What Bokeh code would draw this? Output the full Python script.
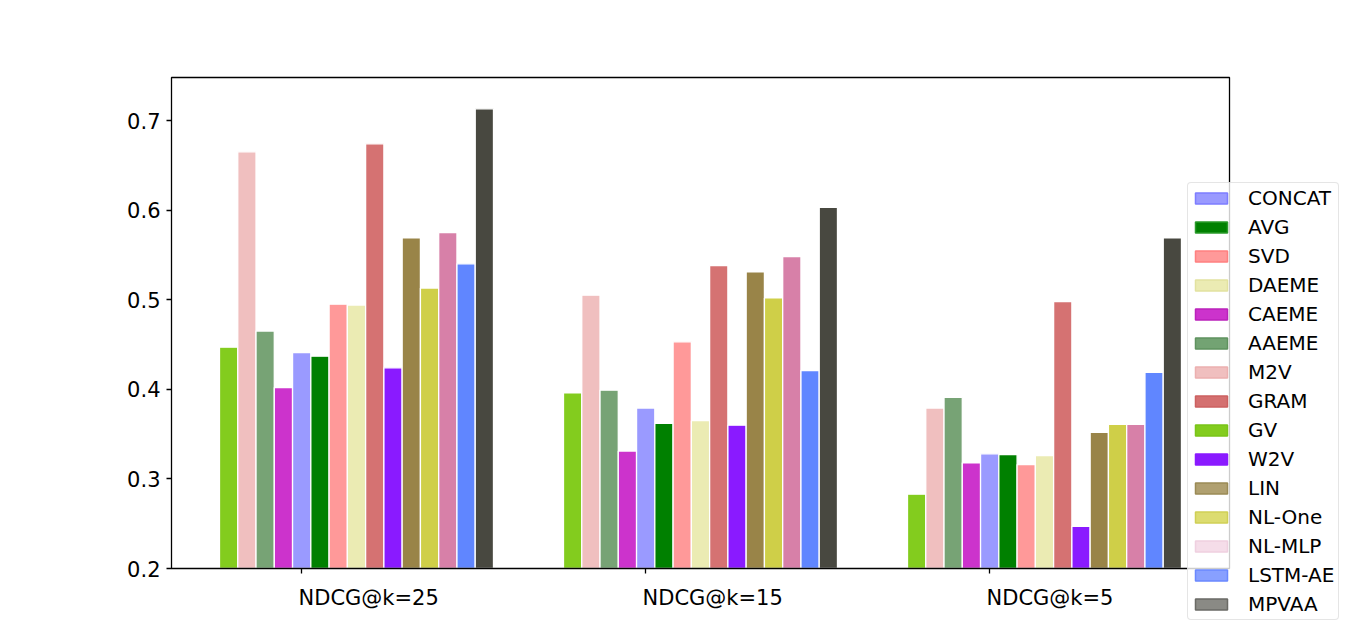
from bokeh.plotting import figure
from bokeh.models import (Range1d, FixedTicker, LinearAxis, Legend, LegendItem,
                          ColumnDataSource, CustomJSTickFormatter, BoxAnnotation)
from bokeh.core.properties import value
from bokeh.embed import file_html
from bokeh.resources import INLINE

# ---- data ----
groups = ["NDCG@k=25", "NDCG@k=15", "NDCG@k=5"]
series = ["GV", "M2V", "AAEME", "CAEME", "CONCAT", "AVG", "SVD", "DAEME",
          "GRAM", "W2V", "LIN", "NL-One", "NL-MLP", "LSTM-AE", "MPVAA"]
ndcg25 = [0.447, 0.665, 0.465, 0.402, 0.441, 0.437, 0.495, 0.494,
          0.674, 0.424, 0.569, 0.513, 0.575, 0.540, 0.713]
ndcg15 = [0.396, 0.505, 0.399, 0.331, 0.379, 0.362, 0.453, 0.365,
          0.538, 0.360, 0.531, 0.502, 0.548, 0.421, 0.603]
ndcg5 = [0.283, 0.379, 0.391, 0.318, 0.328, 0.327, 0.316, 0.326,
         0.498, 0.247, 0.352, 0.361, 0.361, 0.419, 0.569]
y_ticks = [0.2, 0.3, 0.4, 0.5, 0.6, 0.7]

# ---- styles ----
bar_colors = {
    "GV": "#83cc1e", "M2V": "#f0bfbf", "AAEME": "#77a375", "CAEME": "#cc33cc",
    "CONCAT": "#9a9aff", "AVG": "#008000", "SVD": "#ff9999", "DAEME": "#ebebb3",
    "GRAM": "#d57272", "W2V": "#8a1aff", "LIN": "#998448", "NL-One": "#cfcf48",
    "NL-MLP": "#d780a8", "LSTM-AE": "#6086ff", "MPVAA": "#484840",
}
legend_order = ["CONCAT", "AVG", "SVD", "DAEME", "CAEME", "AAEME", "M2V", "GRAM",
                "GV", "W2V", "LIN", "NL-One", "NL-MLP", "LSTM-AE", "MPVAA"]
legend_fill = {
    "CONCAT": ("#9a9aff", "#7d7dff"), "AVG": ("#008000", "#2a9a2a"),
    "SVD": ("#ff9999", "#ff8080"), "DAEME": ("#ebebb3", "#e2e2a0"),
    "CAEME": ("#cc33cc", "#bb22bb"), "AAEME": ("#73a373", "#5f925f"),
    "M2V": ("#f0bfbf", "#ecb0b0"), "GRAM": ("#d47070", "#cc6060"),
    "GV": ("#83cc1e", "#7ac418"), "W2V": ("#8a1aff", "#8a1aff"),
    "LIN": ("#b0a070", "#9a8a55"), "NL-One": ("#dcdc70", "#cfcf55"),
    "NL-MLP": ("#f5dde9", "#efd0e0"), "LSTM-AE": ("#88a0ff", "#6a88ff"),
    "MPVAA": ("#8a8a85", "#6a6a65"),
}

FONT = "DejaVu Sans"
bar_w = 0.0531
first_off = -0.2384
# visible axes box (data units) and the wider drawing area around it
box_x = (-0.3779, 2.6977)
box_y = (0.2, 0.748)

p = figure(frame_width=1290, frame_height=626, output_backend="svg", toolbar_location=None,
           x_range=Range1d(-0.70058, 3.04942), y_range=Range1d(0.135268, 0.833929),
           x_axis_location=None, y_axis_location=None,
           min_border_left=60, min_border_right=8,
           min_border_top=0, min_border_bottom=4)
p.grid.visible = False
p.outline_line_color = None
p.background_fill_color = "white"
p.border_fill_color = "white"

# bars
for j, name in enumerate(series):
    vals = [ndcg25[j], ndcg15[j], ndcg5[j]]
    xs = [g + first_off + (j + 0.5) * bar_w for g in range(len(groups))]
    p.vbar(x=xs, top=vals, bottom=box_y[0], width=bar_w,
           fill_color=bar_colors[name], line_color="white", line_width=1.3)

# axes box
p.add_layout(BoxAnnotation(left=box_x[0], right=box_x[1], bottom=box_y[0], top=box_y[1],
                           fill_color=None, fill_alpha=0, line_color="black",
                           line_alpha=1.0, line_width=1.3))

# y axis (ticks + labels), fixed at the left edge of the box
yaxis = LinearAxis(ticker=FixedTicker(ticks=y_ticks), fixed_location=box_x[0],
                   bounds=box_y)
yaxis.major_label_text_font = FONT
yaxis.major_label_text_font_size = "21px"
yaxis.major_label_text_color = "black"
yaxis.major_tick_out = 5
yaxis.major_tick_in = 0
yaxis.minor_tick_out = 0
yaxis.minor_tick_in = 0
yaxis.major_label_standoff = 6
yaxis.axis_line_color = None
yaxis.major_tick_line_width = 1.3
p.add_layout(yaxis, "left")

# x axis: tick marks at the group positions, fixed at the bottom of the box
xaxis = LinearAxis(ticker=FixedTicker(ticks=list(range(len(groups)))),
                   formatter=CustomJSTickFormatter(code='return "";'),
                   fixed_location=box_y[0], bounds=box_x)
xaxis.major_label_text_color = None
xaxis.major_label_standoff = 0
xaxis.major_tick_out = 5
xaxis.major_tick_in = 0
xaxis.minor_tick_out = 0
xaxis.minor_tick_in = 0
xaxis.axis_line_color = None
xaxis.major_tick_line_width = 1.3
p.add_layout(xaxis, "below")

# group labels, left-aligned at their tick
p.text(x=list(range(len(groups))), y=[box_y[0]] * len(groups), text=groups,
       text_align="left", text_baseline="alphabetic", x_offset=-3, y_offset=29,
       text_font=value(FONT), text_font_size="21px", text_color="black")

# legend swatches: one-row proxies whose x is NaN, so nothing is drawn in the plot
items = []
for name in legend_order:
    fc, lc = legend_fill[name]
    k = series.index(name)
    r = p.vbar(x="x", top="top", width=bar_w, bottom=box_y[0],
               source=ColumnDataSource(dict(x=[float("nan")], top=[ndcg25[k]])),
               fill_color=fc, line_color=lc, line_width=1.5)
    items.append(LegendItem(label=name, renderers=[r]))

legend = Legend(items=items, location=(1127, 6))
legend.label_text_font = FONT
legend.label_text_font_size = "20px"
legend.label_text_color = "black"
legend.glyph_width = 40
legend.glyph_height = 14
legend.label_height = 20
legend.label_width = 87
legend.label_standoff = 17
legend.spacing = 5
legend.padding = 3
legend.margin = 0
legend.border_line_color = "#cccccc"
legend.border_line_width = 1
legend.background_fill_color = "white"
legend.background_fill_alpha = 0.8
if "border_radius" in Legend.properties():
    legend.border_radius = 4
p.add_layout(legend, "center")

open("out.html", "w").write(file_html(p, INLINE))
